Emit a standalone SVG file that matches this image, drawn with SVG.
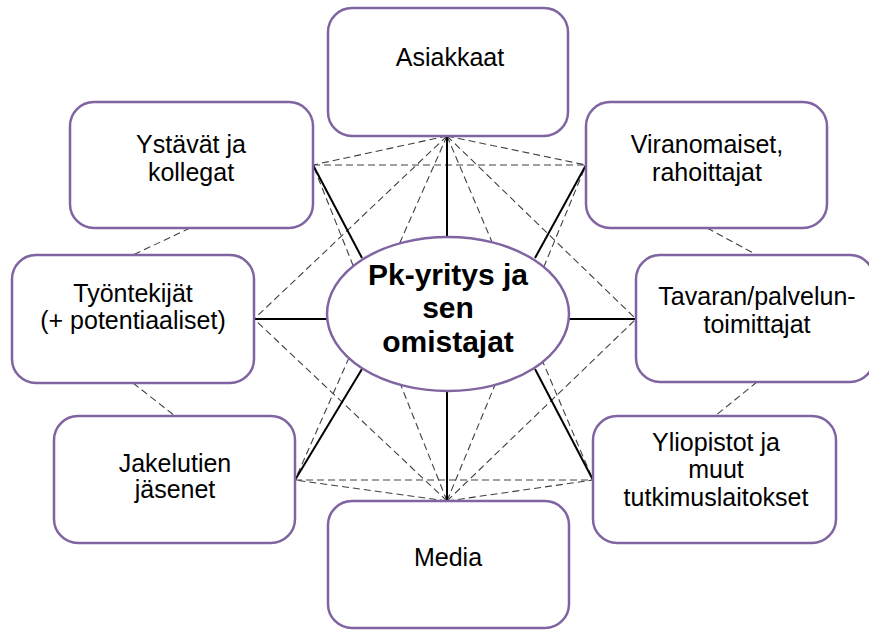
<svg xmlns="http://www.w3.org/2000/svg" width="869" height="630" viewBox="0 0 869 630">
  <style>
    .box { fill: #ffffff; stroke: #8064a2; stroke-width: 2.5; }
    .hub { fill: #ffffff; stroke: #8064a2; stroke-width: 2.5; }
    .solid { stroke: #000000; stroke-width: 2; fill: none; }
    .dash { stroke: #404040; stroke-width: 1.1; stroke-dasharray: 7 4; fill: none; }
    .lbl { font-family: "Liberation Sans", Arial, sans-serif; font-size: 25px; fill: #000000; text-anchor: middle; }
    .hubtxt { font-family: "Liberation Sans", Arial, sans-serif; font-size: 30px; font-weight: bold; fill: #000000; text-anchor: middle; }
  </style>

  <rect width="869" height="630" fill="#ffffff"/>

  <!-- connectors -->
  <g id="connectors">
    <!-- links between neighbouring boxes -->
    <line class="dash" x1="190" y1="228" x2="133" y2="255"/>
    <line class="dash" x1="133" y1="383" x2="175" y2="416"/>
    <line class="dash" x1="707" y1="228" x2="757" y2="255"/>
    <line class="dash" x1="757" y1="382" x2="715" y2="416"/>

    <!-- from Asiakkaat -->
    <line class="dash" x1="447" y1="136" x2="313" y2="165"/>
    <line class="dash" x1="447" y1="136" x2="586" y2="165"/>
    <line class="dash" x1="447" y1="136" x2="254" y2="319"/>
    <line class="dash" x1="447" y1="136" x2="636" y2="319"/>
    <line class="dash" x1="447" y1="136" x2="295" y2="480"/>
    <line class="dash" x1="447" y1="136" x2="593" y2="480"/>

    <!-- from Media -->
    <line class="dash" x1="447" y1="501" x2="313" y2="165"/>
    <line class="dash" x1="447" y1="501" x2="586" y2="165"/>
    <line class="dash" x1="447" y1="501" x2="254" y2="319"/>
    <line class="dash" x1="447" y1="501" x2="636" y2="319"/>
    <line class="dash" x1="447" y1="501" x2="295" y2="480"/>
    <line class="dash" x1="447" y1="501" x2="593" y2="480"/>

    <!-- horizontal links -->
    <line class="dash" x1="313" y1="165" x2="586" y2="165"/>
    <line class="dash" x1="295" y1="480" x2="593" y2="480"/>

    <!-- spokes from the hub -->
    <line class="solid" x1="447" y1="136" x2="447" y2="237"/>
    <line class="solid" x1="447" y1="501" x2="447" y2="390"/>
    <line class="solid" x1="313" y1="165" x2="362" y2="258"/>
    <line class="solid" x1="586" y1="165" x2="535" y2="258"/>
    <line class="solid" x1="254" y1="319" x2="327" y2="319"/>
    <line class="solid" x1="636" y1="319" x2="569" y2="319"/>
    <line class="solid" x1="295" y1="480" x2="362" y2="369"/>
    <line class="solid" x1="593" y1="480" x2="535" y2="369"/>
  </g>

  <g id="asiakkaat">
    <rect class="box" x="328" y="8" width="240" height="128" rx="24"/>
    <text class="lbl" x="450" y="66">Asiakkaat</text>
  </g>

  <g id="ystavat">
    <rect class="box" x="70" y="102" width="243" height="126" rx="24"/>
    <text class="lbl" x="191" y="153">Ystävät ja</text>
    <text class="lbl" x="191" y="181">kollegat</text>
  </g>

  <g id="viranomaiset">
    <rect class="box" x="586" y="102" width="241" height="126" rx="24"/>
    <text class="lbl" x="707" y="153">Viranomaiset,</text>
    <text class="lbl" x="707" y="181">rahoittajat</text>
  </g>

  <g id="tyontekijat">
    <rect class="box" x="12" y="255" width="242" height="128" rx="24"/>
    <text class="lbl" x="133" y="302">Työntekijät</text>
    <text class="lbl" x="133" y="329">(+ potentiaaliset)</text>
  </g>

  <g id="toimittajat">
    <rect class="box" x="636" y="255" width="238" height="127" rx="24"/>
    <text class="lbl" x="757" y="305">Tavaran/palvelun-</text>
    <text class="lbl" x="757" y="333">toimittajat</text>
  </g>

  <g id="jakelutien">
    <rect class="box" x="54" y="416" width="241" height="127" rx="24"/>
    <text class="lbl" x="175" y="472">Jakelutien</text>
    <text class="lbl" x="175" y="498">jäsenet</text>
  </g>

  <g id="yliopistot">
    <rect class="box" x="593" y="416" width="243" height="127" rx="24"/>
    <text class="lbl" x="716" y="451">Yliopistot ja</text>
    <text class="lbl" x="716" y="478">muut</text>
    <text class="lbl" x="716" y="506">tutkimuslaitokset</text>
  </g>

  <g id="media">
    <rect class="box" x="328" y="501" width="241" height="127" rx="24"/>
    <text class="lbl" x="448" y="566">Media</text>
  </g>

  <g id="pk-yritys">
    <ellipse class="hub" cx="448" cy="314" rx="121" ry="77"/>
    <text class="hubtxt" x="448" y="285">Pk-yritys ja</text>
    <text class="hubtxt" x="448" y="318">sen</text>
    <text class="hubtxt" x="448" y="352">omistajat</text>
  </g>
</svg>
